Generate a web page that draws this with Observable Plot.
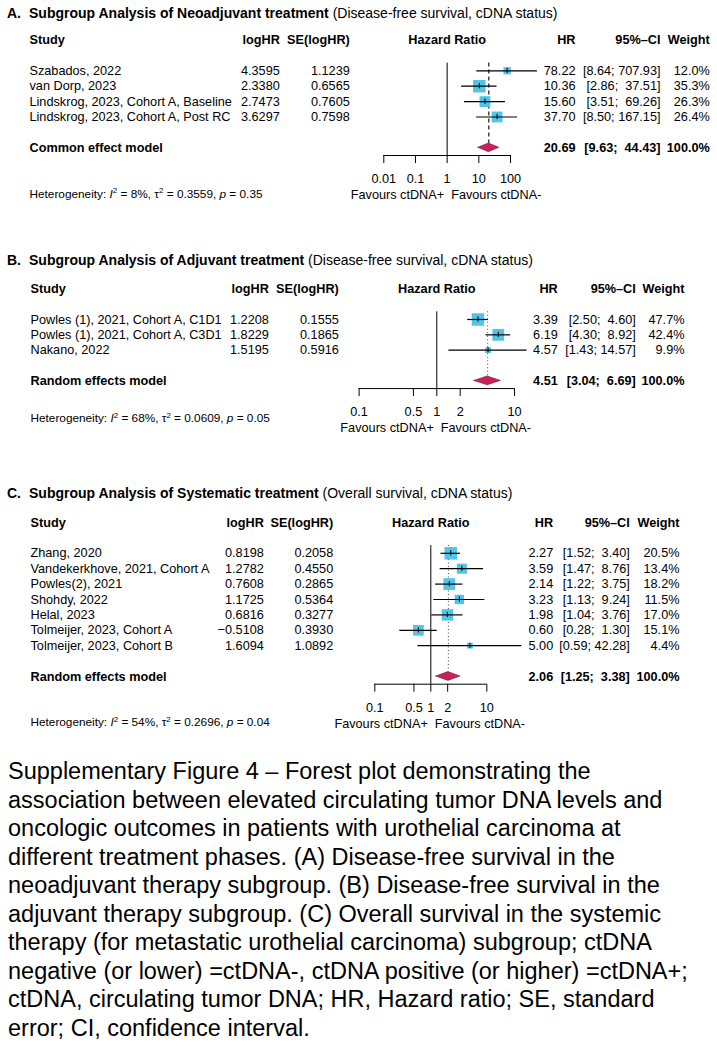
<!DOCTYPE html>
<html><head><meta charset="utf-8">
<script src="https://cdn.jsdelivr.net/npm/d3@7"></script>
<script src="https://cdn.jsdelivr.net/npm/@observablehq/plot@0.6"></script>
<style>
body{margin:0;background:#fff;font-family:"Liberation Sans",Arial,Helvetica,sans-serif;color:#000;}
#root{width:717px;}
.title{height:26px;line-height:26px;font-size:14px;white-space:nowrap;padding-left:7px;}
.title .lab{display:inline-block;width:22px;font-weight:bold;}
.title b{font-weight:bold;}
svg{display:block;}
.caption{font-size:23.5px;line-height:28.5px;padding-left:8px;white-space:nowrap;}
</style></head><body><div id="root"></div>
<script>
// ---------- DATA ----------
const headers = ["Study","logHR","SE(logHR)","Hazard Ratio","HR","95%\u2013CI","Weight"];
const favours = ["Favours ctDNA+","Favours ctDNA-"];

// Panel A
const aTitle = ["A.","Subgroup Analysis of Neoadjuvant treatment","(Disease-free survival, cDNA status)"];
const aStudies = ["Szabados, 2022","van Dorp, 2023","Lindskrog, 2023, Cohort A, Baseline","Lindskrog, 2023, Cohort A, Post RC"];
const aLogHR = [4.3595, 2.3380, 2.7473, 3.6297];
const aSE = [1.1239, 0.6565, 0.7605, 0.7598];
const aHR = [78.22, 10.36, 15.60, 37.70];
const aLower = [8.64, 2.86, 3.51, 8.50];
const aUpper = [707.93, 37.51, 69.26, 167.15];
const aWeight = [12.0, 35.3, 26.3, 26.4];
const aModelLabel = "Common effect model";
const aModel = [20.69, 9.63, 44.43, 100.0]; // HR, lower, upper, weight
const aHet = [8, 0.3559, 0.35]; // I2, tau2, p
const aTicks = [0.01, 0.1, 1, 10, 100];

// Panel B
const bTitle = ["B.","Subgroup Analysis of Adjuvant treatment","(Disease-free survival, cDNA status)"];
const bStudies = ["Powles (1), 2021, Cohort A, C1D1","Powles (1), 2021, Cohort A, C3D1","Nakano, 2022"];
const bLogHR = [1.2208, 1.8229, 1.5195];
const bSE = [0.1555, 0.1865, 0.5916];
const bHR = [3.39, 6.19, 4.57];
const bLower = [2.50, 4.30, 1.43];
const bUpper = [4.60, 8.92, 14.57];
const bWeight = [47.7, 42.4, 9.9];
const bModelLabel = "Random effects model";
const bModel = [4.51, 3.04, 6.69, 100.0];
const bHet = [68, 0.0609, 0.05];
const bTicks = [0.1, 0.5, 1, 2, 10];

// Panel C
const cTitle = ["C.","Subgroup Analysis of Systematic treatment","(Overall survival, cDNA status)"];
const cStudies = ["Zhang, 2020","Vandekerkhove, 2021, Cohort A","Powles(2), 2021","Shohdy, 2022","Helal, 2023","Tolmeijer, 2023, Cohort A","Tolmeijer, 2023, Cohort B"];
const cLogHR = [0.8198, 1.2782, 0.7608, 1.1725, 0.6816, -0.5108, 1.6094];
const cSE = [0.2058, 0.4550, 0.2865, 0.5364, 0.3277, 0.3930, 1.0892];
const cHR = [2.27, 3.59, 2.14, 3.23, 1.98, 0.60, 5.00];
const cLower = [1.52, 1.47, 1.22, 1.13, 1.04, 0.28, 0.59];
const cUpper = [3.40, 8.76, 3.75, 9.24, 3.76, 1.30, 42.28];
const cWeight = [20.5, 13.4, 18.2, 11.5, 17.0, 15.1, 4.4];
const cModelLabel = "Random effects model";
const cModel = [2.06, 1.25, 3.38, 100.0];
const cHet = [54, 0.2696, 0.04];
const cTicks = [0.1, 0.5, 1, 2, 10];

const captionLines = [
 "Supplementary Figure 4 \u2013 Forest plot demonstrating the",
 "association between elevated circulating tumor DNA levels and",
 "oncologic outcomes in patients with urothelial carcinoma at",
 "different treatment phases. (A) Disease-free survival in the",
 "neoadjuvant therapy subgroup. (B) Disease-free survival in the",
 "adjuvant therapy subgroup. (C) Overall survival in the systemic",
 "therapy (for metastatic urothelial carcinoma) subgroup; ctDNA",
 "negative (or lower) =ctDNA-, ctDNA positive (or higher) =ctDNA+;",
 "ctDNA, circulating tumor DNA; HR, Hazard ratio; SE, standard",
 "error; CI, confidence interval."
];

// ---------- LAYOUT ----------
const layouts = [
  {xDomain:[0.01,100], xRange:[383.3,510], headerY:13.5, step:15.4, height:221,
   cols:{study:29, logHR:279.3, se:349.3, hr:575, ci:660, weight:709.3}, dash:"4,3", refColor:"#000", hetOff:3.0},
  {xDomain:[0.1,10], xRange:[358.6,514], headerY:15.3, step:15.35, height:206.7,
   cols:{study:30, logHR:268.3, se:338.3, hr:557.3, ci:635.3, weight:684}, dash:"1,2.5", refColor:"#555", hetOff:2.45},
  {xDomain:[0.1,10], xRange:[374.3,486.3], headerY:16, step:15.4, height:251.8,
   cols:{study:30, logHR:263.3, se:332.7, hr:552.7, ci:629.3, weight:679}, dash:"1,2.5", refColor:"#555", hetOff:3.0}
];

const panels = [
  {title:aTitle, studies:aStudies, logHR:aLogHR, se:aSE, hr:aHR, lower:aLower, upper:aUpper, weight:aWeight, modelLabel:aModelLabel, model:aModel, het:aHet, ticks:aTicks},
  {title:bTitle, studies:bStudies, logHR:bLogHR, se:bSE, hr:bHR, lower:bLower, upper:bUpper, weight:bWeight, modelLabel:bModelLabel, model:bModel, het:bHet, ticks:bTicks},
  {title:cTitle, studies:cStudies, logHR:cLogHR, se:cSE, hr:cHR, lower:cLower, upper:cUpper, weight:cWeight, modelLabel:cModelLabel, model:cModel, het:cHet, ticks:cTicks}
];

const FONT = '"Liberation Sans", Arial, Helvetica, sans-serif';
const SQUARE = "#52c4e8";
const DIAMOND = "#c8215c";
const f4 = d3.format(".4f"), f2 = d3.format(".2f"), f1 = d3.format(".1f");
const NB = "\u00a0";

function padL(s, n){ return NB.repeat(Math.max(0, n - s.length)) + s; }

const root = document.getElementById("root");

panels.forEach((p, pi) => {
  const L = layouts[pi];
  const [xmin, xmax] = L.xDomain;
  const n = p.studies.length;
  const m = n + 3; // model row index
  const rows = p.studies.map((s, i) => ({
    idx: i + 2, study: s, logHR: p.logHR[i], se: p.se[i], hr: p.hr[i],
    lower: p.lower[i], upper: p.upper[i], weight: p.weight[i]
  }));
  const model = {idx: m, study: p.modelLabel, hr: p.model[0], lower: p.model[1], upper: p.model[2], weight: p.model[3]};
  const all = rows.concat([model]);
  const lowW = d3.max(all, d => f2(d.lower).length);
  const upW = d3.max(all, d => f2(d.upper).length);
  all.forEach(d => {
    d.ci = "[" + padL(f2(d.lower), lowW) + ";" + NB + padL(f2(d.upper), upW) + "]";
    d.hrS = f2(d.hr);
    d.wS = f1(d.weight) + "%";
  });

  // title (HTML above the svg)
  const t = document.createElement("div");
  t.className = "title";
  t.innerHTML = `<span class="lab"></span><b></b> <span class="norm"></span>`;
  t.querySelector(".lab").textContent = p.title[0];
  t.querySelector("b").textContent = p.title[1];
  t.querySelector(".norm").textContent = p.title[2];
  root.appendChild(t);

  const C = L.cols;
  const wmax = d3.max(p.weight);
  const dh = 4.4 / L.step;
  const tk = 8 / L.step;
  const diamond = [
    {x: model.lower, y1: m, y2: m},
    {x: model.hr, y1: m - dh, y2: m + dh},
    {x: model.upper, y1: m, y2: m}
  ];
  const hdr = headers.map((h, i) => ({h, i}));
  const colX = [C.study, C.logHR, C.se, null, C.hr, C.ci, C.weight];
  const hetText = `Heterogeneity: I2 = ${p.het[0]}%, tau2 = ${f4(p.het[1])}, p = ${f2(p.het[2])}`;

  const svg = Plot.plot({
    width: 717, height: L.height,
    marginTop: 0, marginBottom: 0, marginLeft: 0, marginRight: 0,
    style: {fontFamily: FONT, fontSize: "12.7px", color: "#000", background: "#fff", overflow: "visible"},
    x: {type: "log", domain: L.xDomain, range: L.xRange, axis: null},
    y: {type: "linear", domain: [0, 1], range: [L.headerY, L.headerY + L.step], axis: null},
    r: {type: "sqrt", domain: [0, wmax], range: [0, 7.05]},
    marks: [
      // headers
      Plot.text(hdr.filter(d => d.i === 0), {y: 0, text: d => d.h, frameAnchor: "left", dx: C.study, textAnchor: "start", fontWeight: "bold"}),
      Plot.text(hdr.filter(d => d.i !== 0 && d.i !== 3), {y: 0, text: d => d.h, frameAnchor: "left", dx: 0, textAnchor: "end", fontWeight: "bold"}),
      Plot.text(hdr.filter(d => d.i === 3), {x: 1, y: 0, text: d => d.h, textAnchor: "middle", fontWeight: "bold"}),
      // study table
      Plot.text(rows, {y: "idx", text: "study", frameAnchor: "left", dx: C.study, textAnchor: "start"}),
      Plot.text(rows, {y: "idx", text: d => f4(d.logHR), frameAnchor: "left", dx: C.logHR, textAnchor: "end"}),
      Plot.text(rows, {y: "idx", text: d => f4(d.se), frameAnchor: "left", dx: C.se, textAnchor: "end"}),
      Plot.text(rows, {y: "idx", text: "hrS", frameAnchor: "left", dx: C.hr, textAnchor: "end"}),
      Plot.text(rows, {y: "idx", text: "ci", frameAnchor: "left", dx: C.ci, textAnchor: "end"}),
      Plot.text(rows, {y: "idx", text: "wS", frameAnchor: "left", dx: C.weight, textAnchor: "end"}),
      // model row
      Plot.text([model], {y: "idx", text: "study", frameAnchor: "left", dx: C.study, textAnchor: "start", fontWeight: "bold"}),
      Plot.text([model], {y: "idx", text: "hrS", frameAnchor: "left", dx: C.hr, textAnchor: "end", fontWeight: "bold"}),
      Plot.text([model], {y: "idx", text: "ci", frameAnchor: "left", dx: C.ci, textAnchor: "end", fontWeight: "bold"}),
      Plot.text([model], {y: "idx", text: "wS", frameAnchor: "left", dx: C.weight, textAnchor: "end", fontWeight: "bold"}),
      // reference lines
      Plot.ruleX([1], {x: d => d, y1: 1.5, y2: m + 0.5, stroke: "#000", strokeWidth: 1}),
      Plot.ruleX([model], {x: "hr", y1: 1.5, y2: m - dh, stroke: L.refColor, strokeWidth: 1.1, strokeDasharray: L.dash}),
      // squares, CI lines, centre ticks
      Plot.dot(rows, {x: "hr", y: "idx", r: "weight", symbol: "square", fill: SQUARE, stroke: "none"}),
      Plot.ruleY(rows, {y: "idx", x1: "lower", x2: "upper", strokeWidth: 1.2, stroke: "#000"}),
      Plot.ruleX(rows, {x: "hr", y1: d => d.idx - 0.17, y2: d => d.idx + 0.17, stroke: "#000", strokeWidth: 1}),
      // diamond
      Plot.areaY(diamond, {x: "x", y1: "y1", y2: "y2", fill: DIAMOND, stroke: "#7a1238", strokeWidth: 0.6}),
      // axis
      Plot.ruleY([m + 0.5], {y: d => d, x1: xmin, x2: xmax, stroke: "#000", strokeWidth: 1}),
      Plot.ruleX(p.ticks, {x: d => d, y1: m + 0.5, y2: m + 0.5 + tk, stroke: "#000", strokeWidth: 1}),
      Plot.text(p.ticks, {x: d => d, y: m + 2.05, text: d => String(d), textAnchor: "middle"}),
      Plot.text([favours[0]], {x: 1, y: m + 3.05, text: d => d, textAnchor: "end", dx: -3}),
      Plot.text([favours[1]], {x: 1, y: m + 3.05, text: d => d, textAnchor: "start", dx: 4}),
      // heterogeneity
      Plot.text([hetText], {y: m + L.hetOff, text: d => d, frameAnchor: "left", dx: C.study, textAnchor: "start", fontSize: 11.8, className: "het"})
    ]
  });

  // right-aligned header columns: move each header to its column edge
  const hdrG = svg.querySelectorAll("g[aria-label='text']")[1];
  if (hdrG) {
    const others = hdr.filter(d => d.i !== 0 && d.i !== 3);
    hdrG.querySelectorAll("text").forEach((el, k) => {
      const cx = colX[others[k].i];
      const tr = el.getAttribute("transform") || "";
      el.setAttribute("transform", tr.replace(/translate\(([-\d.]+)/, `translate(${cx}`));
    });
  }

  // rich heterogeneity text
  const hetEl = svg.querySelector("g.het text");
  if (hetEl) {
    hetEl.textContent = "";
    const parts = [
      ["Heterogeneity: ", ""], ["I", "it"], ["2", "sup"], [` = ${p.het[0]}%, `, "back"],
      ["\u03c4", ""], ["2", "sup"], [` = ${f4(p.het[1])}, `, "back"],
      ["p", "it"], [` = ${f2(p.het[2])}`, ""]
    ];
    parts.forEach(([s, k]) => {
      const ts = document.createElementNS("http://www.w3.org/2000/svg", "tspan");
      ts.textContent = s;
      if (k === "it") ts.setAttribute("font-style", "italic");
      if (k === "sup") { ts.setAttribute("dy", "-4.5"); ts.setAttribute("font-size", "8px"); }
      if (k === "back") ts.setAttribute("dy", "4.5");
      hetEl.appendChild(ts);
    });
  }
  root.appendChild(svg);
});

const cap = document.createElement("div");
cap.className = "caption";
captionLines.forEach((l) => {
  const s = document.createElement("div");
  s.textContent = l;
  cap.appendChild(s);
});
root.appendChild(cap);
</script></body></html>
